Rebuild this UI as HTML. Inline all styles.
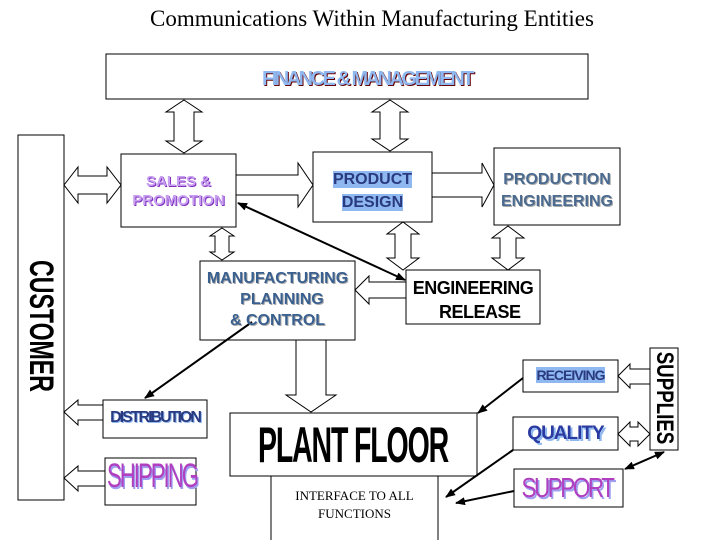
<!DOCTYPE html>
<html><head><meta charset="utf-8"><style>
body{margin:0;width:720px;height:540px;background:#fff;position:relative;overflow:hidden;font-family:"Liberation Sans",sans-serif}
svg{position:absolute;left:0;top:0}
.t{position:absolute;font-weight:bold;text-align:center;white-space:nowrap;line-height:1}
</style></head><body>
<svg width="720" height="540" viewBox="0 0 720 540">
<defs><marker id="ah" markerWidth="10" markerHeight="8" refX="9" refY="4" orient="auto-start-reverse" markerUnits="userSpaceOnUse"><path d="M0,0 L10,4 L0,8 z" fill="#000"/></marker></defs>
<g fill="#fff" stroke="#000" stroke-width="1">
<rect x="106" y="54" width="482" height="45"/>
<rect x="18" y="135" width="46" height="365"/>
<rect x="121" y="154" width="115" height="73"/>
<rect x="313" y="152" width="119" height="70"/>
<rect x="494" y="148" width="126" height="77"/>
<rect x="200" y="261" width="155" height="79"/>
<rect x="406" y="270" width="134" height="54"/>
<rect x="523" y="360" width="95" height="32"/>
<rect x="650" y="348" width="28" height="102"/>
<rect x="513" y="417" width="105" height="33"/>
<rect x="514" y="469" width="109" height="38"/>
<rect x="230" y="413" width="247" height="63"/>
<rect x="271" y="476" width="167" height="70"/>
<rect x="103" y="400" width="104" height="38"/>
<rect x="105" y="458" width="91" height="47"/>
<polygon points="184,100 202,112 194,112 194,141 202,141 184,153 166,141 174,141 174,112 166,112"/>
<polygon points="390,100 408,112 400,112 400,139 408,139 390,151 372,139 380,139 380,112 372,112"/>
<polygon points="222,228 234,236 229,236 229,252 234,252 222,260 210,252 215,252 215,236 210,236"/>
<polygon points="403,222 419,234 411,234 411,258 419,258 403,270 387,258 395,258 395,234 387,234"/>
<polygon points="508,226 524,238 516,238 516,258 524,258 508,270 492,258 500,258 500,238 492,238"/>
<polygon points="236,175 298,175 298,163 313,185 298,207 298,195 236,195"/>
<polygon points="432,173 482,173 482,163 494,185 482,207 482,197 432,197"/>
<polygon points="64,185 78,167 78,176 107,176 107,167 121,185 107,203 107,194 78,194 78,203"/>
<polygon points="355,290 369,276 369,282 406,282 406,298 369,298 369,304"/>
<polygon points="296,340 326,340 326,395 336,395 311,412 286,395 296,395"/>
<polygon points="64,412 78,400 78,405 103,405 103,420 78,420 78,425"/>
<polygon points="64,478 78,466 78,471 105,471 105,486 78,486 78,491"/>
<polygon points="618,376 630,364 630,369 650,369 650,384 630,384 630,388"/>
<polygon points="618,434 630,422 630,427 638,427 638,422 650,434 638,446 638,441 630,441 630,446"/>
</g>
<g stroke="#000" stroke-width="2" fill="none">
<line x1="238" y1="203" x2="405" y2="280" marker-start="url(#ah)" marker-end="url(#ah)"/>
<line x1="252" y1="322" x2="145" y2="398" marker-end="url(#ah)"/>
<line x1="523" y1="378" x2="478" y2="413" marker-end="url(#ah)"/>
<line x1="513" y1="450" x2="446" y2="497" marker-end="url(#ah)"/>
<line x1="514" y1="491" x2="456" y2="503" marker-end="url(#ah)"/>
<line x1="664" y1="452" x2="625" y2="469" marker-start="url(#ah)" marker-end="url(#ah)"/>
</g>
</svg>
<div class="t" style="left:0;width:744px;top:7px;font-family:'Liberation Serif',serif;font-weight:normal;font-size:23px">Communications Within Manufacturing Entities</div>
<div class="t" style="left:106px;width:522px;top:69px;font-size:20px;letter-spacing:-2.5px;color:#8fb8f0;text-shadow:1px 1px 0 #600">FINANCE &amp; MANAGEMENT</div>
<div class="t" style="left:-159px;top:309px;width:400px;font-size:34px;transform:rotate(90deg) scaleX(0.68)">CUSTOMER</div>
<div class="t" style="left:121px;width:115px;top:172px;font-size:15px;line-height:19px;color:#c8a0f0;text-shadow:1px 1px 0 #8030c0">SALES &amp;<br>PROMOTION</div>
<div class="t" style="left:313px;width:119px;top:168px;font-size:16px;line-height:23px;color:#2a3a80;"><span style="background:#8fb8f0">PRODUCT</span><br><span style="background:#8fb8f0">DESIGN</span></div>
<div class="t" style="left:494px;width:126px;top:169px;font-size:16px;line-height:22px;color:#4a6a90;text-shadow:1px 1px 0 #aaa">PRODUCTION<br>ENGINEERING</div>
<div class="t" style="left:200px;width:155px;top:268px;font-size:16px;line-height:21px;color:#3a6090;text-shadow:1px 1px 0 #aaa">MANUFACTURING<br>&nbsp;&nbsp;PLANNING<br>&amp; CONTROL</div>
<div class="t" style="left:406px;width:134px;top:276px;font-size:18px;letter-spacing:-0.5px;line-height:24px;color:#000">ENGINEERING<br>&nbsp;&nbsp;&nbsp;RELEASE</div>
<div class="t" style="left:523px;width:95px;top:368px;font-size:14px;color:#2a3a80;letter-spacing:-1px"><span style="background:#8fb8f0">RECEIVING</span></div>
<div class="t" style="left:564px;top:386px;width:200px;font-size:24px;transform:rotate(90deg) scaleX(0.78);color:#000">SUPPLIES</div>
<div class="t" style="left:513px;width:105px;top:424px;font-size:19px;letter-spacing:-1px;color:#2a3aa0;text-shadow:2px 2px 0 #8fb8f0">QUALITY</div>
<div class="t" style="left:467px;width:200px;top:474px;font-size:28px;font-weight:normal;letter-spacing:-3px;color:#b040c0;text-shadow:2px 2px 0 #a0a0f0;transform:scaleX(0.8)">SUPPORT</div>
<div class="t" style="left:153px;width:400px;top:420px;font-size:50px;letter-spacing:-2px;transform:scaleX(0.57)">PLANT FLOOR</div>
<div class="t" style="left:271px;width:167px;top:487px;font-family:'Liberation Serif',serif;font-weight:normal;font-size:13px;line-height:18px">INTERFACE TO ALL<br>FUNCTIONS</div>
<div class="t" style="left:103px;width:104px;top:410px;font-size:16px;letter-spacing:-2px;color:#2a3a80;text-shadow:1px 1px 0 #8fb8f0">DISTRIBUTION</div>
<div class="t" style="left:52px;width:200px;top:459px;font-size:34px;font-weight:normal;letter-spacing:-3px;color:#b040c0;text-shadow:2px 2px 0 #a0a0f0;transform:scaleX(0.65)">SHIPPING</div>
</body></html>
